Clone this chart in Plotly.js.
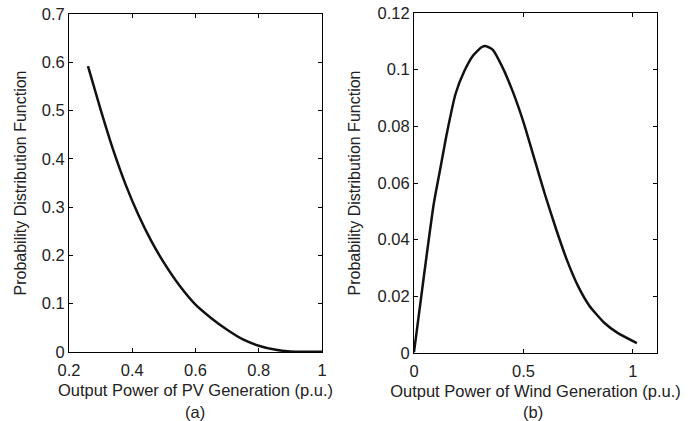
<!DOCTYPE html>
<html>
<head>
<meta charset="utf-8">
<script src="https://cdn.plot.ly/plotly-3.0.1.min.js"></script>
<style>html,body{margin:0;padding:0;background:#fff;}#chart{width:695px;height:421px;}</style>
</head>
<body>
<div id="chart"></div>
<script>
// (a) PV generation PDF
const pvX = [0.26, 0.30, 0.34, 0.38, 0.42, 0.46, 0.50, 0.55, 0.60, 0.65, 0.70, 0.75, 0.80, 0.85, 0.90, 0.95, 1.0];
const pvY = [0.592, 0.502, 0.418, 0.345, 0.283, 0.230, 0.185, 0.137, 0.098, 0.070, 0.046, 0.026, 0.013, 0.005, 0.001, 0.0005, 0.0005];

// (b) Wind generation PDF
const windX = [0, 0.045, 0.09, 0.12, 0.15, 0.19, 0.23, 0.27, 0.31, 0.33, 0.36, 0.40, 0.45, 0.50, 0.55, 0.60, 0.65, 0.70, 0.75, 0.80, 0.87, 0.93, 1.018];
const windY = [0.0003, 0.027, 0.0525, 0.065, 0.0775, 0.0915, 0.0995, 0.105, 0.108, 0.1083, 0.107, 0.1015, 0.0925, 0.0815, 0.0685, 0.0555, 0.0435, 0.0325, 0.0235, 0.0168, 0.0106, 0.0071, 0.0035];

const pvTicks = [0.2, 0.4, 0.6, 0.8, 1];
const windTicks = [0, 0.5, 1];

const txt = '#222';
const fontFam = 'Liberation Sans, Arial, sans-serif';

const axisBase = {
  showline: true, mirror: 'ticks', ticks: 'inside', ticklen: 4,
  linecolor: '#000', linewidth: 1, tickcolor: '#000',
  showgrid: false, zeroline: false,
  tickfont: {size: 16.5, color: txt, family: fontFam}
};

const traces = [
  {x: pvX, y: pvY, xaxis: 'x', yaxis: 'y', mode: 'lines', line: {color: '#111', width: 2.5, shape: 'spline', smoothing: 0.6}, hoverinfo: 'skip'},
  {x: windX, y: windY, xaxis: 'x2', yaxis: 'y2', mode: 'lines', line: {color: '#111', width: 2.5, shape: 'spline', smoothing: 0.6}, hoverinfo: 'skip'}
];

const layout = {
  width: 695, height: 421,
  margin: {l: 0, r: 0, t: 0, b: 0},
  paper_bgcolor: '#fff', plot_bgcolor: '#fff',
  showlegend: false,
  font: {family: fontFam, color: txt},
  xaxis: Object.assign({}, axisBase, {
    domain: [69/695, 322/695], range: [0.2, 1], tickvals: pvTicks, anchor: 'y', ticklabelstandoff: 3,
    title: {text: 'Output Power of PV Generation (p.u.)', font: {size: 16.5, color: txt}, standoff: 6}
  }),
  yaxis: Object.assign({}, axisBase, {
    domain: [69/421, 407/421], range: [0, 0.7], dtick: 0.1, anchor: 'x',
    title: {text: 'Probability Distribution Function', font: {size: 16, color: txt}, standoff: 11}
  }),
  xaxis2: Object.assign({}, axisBase, {
    domain: [414/695, 657/695], range: [0, 1.11], tickvals: windTicks, anchor: 'y2', ticklabelstandoff: 3,
    title: {text: 'Output Power of Wind Generation (p.u.)', font: {size: 16.5, color: txt}, standoff: 6}
  }),
  yaxis2: Object.assign({}, axisBase, {
    domain: [68/421, 408/421], range: [0, 0.12], dtick: 0.02, anchor: 'x2',
    title: {text: 'Probability Distribution Function', font: {size: 16, color: txt}, standoff: 12}
  }),
  annotations: [
    {text: '(a)', xref: 'paper', yref: 'paper', x: 195/695, y: 9/421, showarrow: false, font: {size: 16.5, color: txt}, xanchor: 'center', yanchor: 'middle'},
    {text: '(b)', xref: 'paper', yref: 'paper', x: 533/695, y: 9/421, showarrow: false, font: {size: 16.5, color: txt}, xanchor: 'center', yanchor: 'middle'}
  ]
};

Plotly.newPlot('chart', traces, layout, {staticPlot: true, displayModeBar: false});
</script>
</body>
</html>
